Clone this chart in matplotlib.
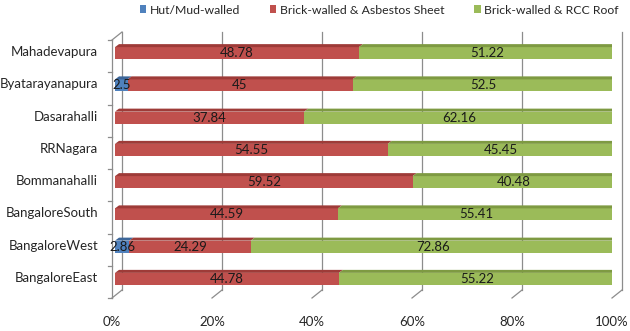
import matplotlib
matplotlib.use("Agg")
import matplotlib.pyplot as plt
from matplotlib.patches import Polygon, Patch

plt.rcParams['font.family'] = ['Lato', 'DejaVu Sans']

# housing type share (%) per assembly constituency, bottom row first
zones = ['BangaloreEast', 'BangaloreWest', 'BangaloreSouth', 'Bommanahalli',
         'RRNagara', 'Dasarahalli', 'Byatarayanapura', 'Mahadevapura']
hut = [0, 2.86, 0, 0, 0, 0, 2.5, 0]
asbestos = [44.78, 24.29, 44.59, 59.52, 54.55, 37.84, 45, 48.78]
rcc = [55.22, 72.86, 55.41, 40.48, 45.45, 62.16, 52.5, 51.22]

series = [('Hut/Mud-walled', hut),
          ('Brick-walled & Asbestos Sheet', asbestos),
          ('Brick-walled & RCC Roof', rcc)]
# front, top, side shades
colors = [('#4F81BD', '#3C6699', '#2F5078'),
          ('#C0504D', '#9E3B38', '#7E2E2B'),
          ('#9BBB59', '#7E9A42', '#5F7630')]

fig = plt.figure(figsize=(6.3, 3.31), dpi=100)
ax = fig.add_axes([112/630, 33/331, 500/630, 258/331])
ax.set_xlim(0, 100)
ax.set_ylim(-0.5, len(zones) - 0.5)
ax.axis('off')

PX = 500 / 100.0          # pixels per percent
PY = 258 / len(zones)     # pixels per category
WX, WY = 10 / PX, 8 / PY  # wall depth
SX, SY = 3 / PX, 3 / PY   # bar front shift
DX, DY = 4 / PX, 3 / PY   # bar depth
H = 12 / PY               # bar front height

grid = '#8C8C8C'
ytop = len(zones) - 0.5
for v in range(0, 101, 20):
    ax.plot([v + WX, v + WX], [-0.5 + WY, ytop + WY], color=grid, lw=0.9, clip_on=False)
    ax.plot([v, v + WX], [-0.5, -0.5 + WY], color=grid, lw=0.9, clip_on=False)
    ax.text(v, -0.5 - 24 / PY, f'{v}%', ha='center', va='center', fontsize=9.5,
            color='#262626')
ax.plot([0, 0], [-0.5, ytop], color=grid, lw=0.9, clip_on=False)
ax.plot([0, WX], [ytop, ytop + WY], color=grid, lw=0.9, clip_on=False)
for k in range(len(zones) + 1):
    ax.plot([-4 / PX, 0], [k - 0.5, k - 0.5], color=grid, lw=0.9, clip_on=False)

for i, name in enumerate(zones):
    ax.text(-14 / PX, i + 4 / PY, name, ha='right', va='center', fontsize=9.5,
            color='#262626')

left = [0.0] * len(zones)
for (label, vals), (cf, ct, cs) in zip(series, colors):
    ax.barh([i + SY for i in range(len(zones))], vals, height=H,
            left=[l + SX for l in left], color=cf, edgecolor='none', zorder=3)
    for i, v in enumerate(vals):
        if v == 0:
            continue
        x0 = left[i] + SX
        x1 = x0 + v
        yt = i + SY + H / 2
        yb = i + SY - H / 2
        ax.add_patch(Polygon([(x0, yt), (x1, yt), (x1 + DX, yt + DY), (x0 + DX, yt + DY)],
                             closed=True, facecolor=ct, edgecolor='none', zorder=3))
        if abs(left[i] + v - 100) < 0.05:
            ax.add_patch(Polygon([(x1, yb), (x1, yt), (x1 + DX, yt + DY), (x1 + DX, yb + DY)],
                                 closed=True, facecolor=cs, edgecolor='none', zorder=3))
        ax.text(x0 + v / 2, i + SY, f'{v:g}', ha='center', va='center',
                fontsize=9.5, color='#1A1A1A', zorder=4)
    left = [l + v for l, v in zip(left, vals)]

handles = [Patch(facecolor=c[0]) for c in colors]
fig.legend(handles, [s[0] for s in series], loc='center', ncol=3,
           bbox_to_anchor=(0.602, 1 - 10 / 331), frameon=False, fontsize=8.8,
           handlelength=0.55, handleheight=0.55, handletextpad=0.3,
           columnspacing=2.4, labelcolor='#262626')

fig.savefig('out.png', dpi=100)
